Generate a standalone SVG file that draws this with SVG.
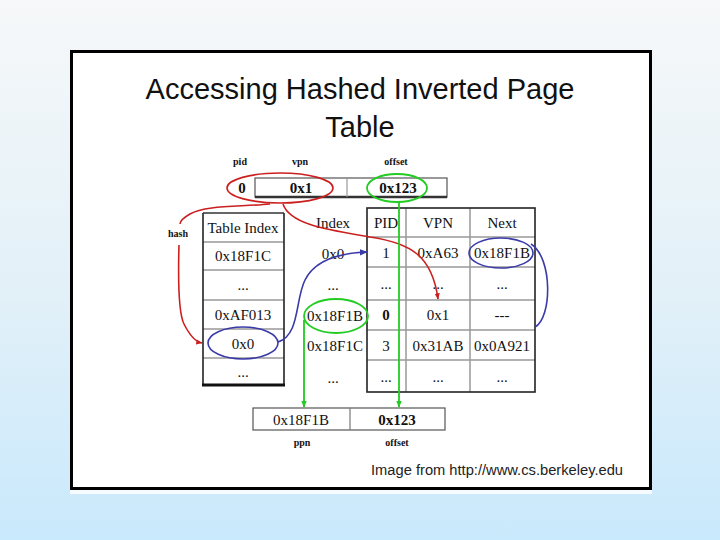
<svg xmlns="http://www.w3.org/2000/svg" width="720" height="540" viewBox="0 0 720 540">
<defs>
<linearGradient id="bg" x1="0" y1="0" x2="0" y2="1">
<stop offset="0" stop-color="#f6f8f9"/>
<stop offset="0.55" stop-color="#e2f0f8"/>
<stop offset="1" stop-color="#c9e9fc"/>
</linearGradient>
<marker id="ab" viewBox="0 0 10 10" refX="9" refY="5" markerWidth="5" markerHeight="5" orient="auto"><path d="M0,1 L10,5 L0,9 z" fill="#3a3aa8"/></marker>
<marker id="ar" viewBox="0 0 10 10" refX="9" refY="5" markerWidth="4" markerHeight="4" orient="auto"><path d="M0,1 L10,5 L0,9 z" fill="#cc2020"/></marker>
<marker id="ag" viewBox="0 0 10 10" refX="9" refY="5" markerWidth="4" markerHeight="4" orient="auto"><path d="M0,1 L10,5 L0,9 z" fill="#22cc22"/></marker>
</defs>
<style>
.t{font-family:"Liberation Serif","Times New Roman",serif;font-size:15px;fill:#111;text-anchor:middle}
.s{font-family:"Liberation Serif","Times New Roman",serif;font-size:10px;fill:#111;text-anchor:middle;font-weight:bold}
.b{font-weight:bold}
.ttl{font-family:"Liberation Sans",Arial,sans-serif;font-size:29px;fill:#111;text-anchor:middle}
.cr{font-family:"Liberation Sans",Arial,sans-serif;font-size:14px;fill:#222}
.out{fill:none;stroke:#222;stroke-width:1.6}
.in{stroke:#999;stroke-width:1.5}
.red{fill:none;stroke:#cc2020;stroke-width:1.6}
.blue{fill:none;stroke:#3a3aa8;stroke-width:1.6}
.green{fill:none;stroke:#22cc22;stroke-width:1.8}
</style>
<rect x="0" y="0" width="720" height="540" fill="url(#bg)"/>
<rect x="70" y="489" width="582" height="5" fill="#ffffff" opacity="0.8"/>
<rect x="71.5" y="51.5" width="579" height="437" fill="#ffffff" stroke="#000" stroke-width="3"/>
<text class="ttl" x="360" y="99">Accessing Hashed Inverted Page</text>
<text class="ttl" x="360" y="137">Table</text>

<g id="virtual-address">
<text class="s" x="240" y="165">pid</text>
<text class="s" x="300" y="165">vpn</text>
<text class="s" x="396" y="165">offset</text>
<rect x="255" y="178" width="192" height="19" fill="#fff" stroke="#555" stroke-width="1.2"/>
<line x1="255" y1="197" x2="447" y2="197" stroke="#333" stroke-width="2.5"/>
<line x1="347" y1="178" x2="347" y2="197" stroke="#999" stroke-width="1.2"/>
<text class="t b" x="242" y="193">0</text>
<text class="t b" x="301" y="193">0x1</text>
<text class="t b" x="398" y="193">0x123</text>
</g>

<g id="hash-table">
<rect x="203" y="213" width="81" height="172" fill="#fff"/>
<line x1="203" y1="242" x2="284" y2="242" class="in"/>
<line x1="203" y1="270" x2="284" y2="270" class="in"/>
<line x1="203" y1="300" x2="284" y2="300" class="in"/>
<line x1="203" y1="329" x2="284" y2="329" class="in"/>
<line x1="203" y1="358" x2="284" y2="358" class="in"/>
<line x1="203" y1="213" x2="284" y2="213" stroke="#333" stroke-width="1.5"/>
<line x1="203" y1="213" x2="203" y2="385" stroke="#222" stroke-width="1.6"/>
<line x1="284" y1="213" x2="284" y2="385" stroke="#222" stroke-width="1.6"/>
<line x1="202" y1="385" x2="285" y2="385" stroke="#111" stroke-width="3"/>
<text class="t" x="243" y="233">Table Index</text>
<text class="t" x="243" y="261">0x18F1C</text>
<text class="t" x="243" y="290">...</text>
<text class="t" x="243" y="320">0xAF013</text>
<text class="t" x="243" y="349">0x0</text>
<text class="t" x="243" y="377">...</text>
</g>

<g id="index-column">
<text class="t" x="333" y="228">Index</text>
<text class="t" x="333" y="259">0x0</text>
<text class="t" x="333" y="290">...</text>
<text class="t" x="335" y="321">0x18F1B</text>
<text class="t" x="335" y="351">0x18F1C</text>
<text class="t" x="333" y="383">...</text>
</g>

<g id="inverted-table">
<rect x="367" y="208" width="168" height="184" fill="#fff"/>
<line x1="367" y1="237" x2="535" y2="237" class="in"/>
<line x1="367" y1="267" x2="535" y2="267" class="in"/>
<line x1="367" y1="300" x2="535" y2="300" class="in"/>
<line x1="367" y1="330" x2="535" y2="330" class="in"/>
<line x1="367" y1="360" x2="535" y2="360" class="in"/>
<line x1="406" y1="208" x2="406" y2="392" class="in"/>
<line x1="470" y1="208" x2="470" y2="392" class="in"/>
<rect x="367" y="208" width="168" height="184" class="out"/>
<text class="t" x="386" y="228">PID</text>
<text class="t" x="438" y="228">VPN</text>
<text class="t" x="502" y="228">Next</text>
<text class="t" x="386" y="258">1</text>
<text class="t" x="438" y="258">0xA63</text>
<text class="t" x="502" y="258">0x18F1B</text>
<text class="t" x="386" y="289">...</text>
<text class="t" x="438" y="289">...</text>
<text class="t" x="502" y="289">...</text>
<text class="t b" x="386" y="320">0</text>
<text class="t" x="438" y="320">0x1</text>
<text class="t" x="502" y="320">---</text>
<text class="t" x="386" y="351">3</text>
<text class="t" x="438" y="351">0x31AB</text>
<text class="t" x="502" y="351">0x0A921</text>
<text class="t" x="386" y="382">...</text>
<text class="t" x="438" y="382">...</text>
<text class="t" x="502" y="382">...</text>
</g>

<g id="physical-address">
<rect x="253" y="408" width="192" height="22" fill="#fff" stroke="#555" stroke-width="1.2"/>
<line x1="350" y1="408" x2="350" y2="430" stroke="#777" stroke-width="1.2"/>
<text class="t" x="301" y="425">0x18F1B</text>
<text class="t b" x="397" y="425">0x123</text>
<text class="s" x="302" y="446">ppn</text>
<text class="s" x="397" y="446">offset</text>
</g>

<g id="connectors">
<ellipse cx="280" cy="188" rx="53" ry="15" class="red"/>
<ellipse cx="397" cy="188" rx="30" ry="14" class="green"/>
<ellipse cx="243" cy="343" rx="35" ry="16" class="blue"/>
<ellipse cx="336" cy="316" rx="32" ry="17" class="green"/>
<ellipse cx="501" cy="253" rx="32" ry="15" class="blue"/>
<path d="M270 204 C240 207 205 205 190 214 C183 218 180 222 180 224" class="red"/>
<text class="s" x="178" y="237">hash</text>
<path d="M179 245 C178 280 178 312 184 324 C190 336 196 342 202 343" class="red" marker-end="url(#ar)"/>
<path d="M283 204 C290 225 330 230 370 237 C410 243 432 255 438 299" class="red" marker-end="url(#ar)"/>
<path d="M278 342 C300 335 295 300 305 280 C315 260 340 253 367 252" class="blue" marker-end="url(#ab)"/>
<path d="M531 244 C553 258 552 318 535 327" class="blue"/>
<path d="M399 202 L399 407" class="green" marker-end="url(#ag)"/>
<path d="M304 320 L304 407" class="green" marker-end="url(#ag)"/>
</g>

<text class="cr" x="371" y="475" textLength="252" lengthAdjust="spacingAndGlyphs">Image from http://www.cs.berkeley.edu</text>
</svg>
